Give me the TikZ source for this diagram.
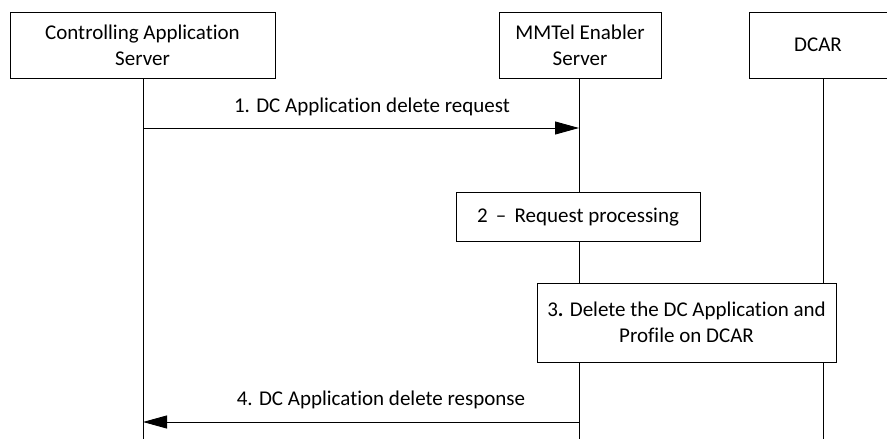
\documentclass[tikz,border=0pt]{standalone}
\usepackage{fontspec}
\setmainfont{Carlito}[Ligatures={NoCommon}]
\usetikzlibrary{arrows.meta}

\begin{document}
\begin{tikzpicture}[x=1pt, y=-1pt, line width=0.9pt,
    font=\fontsize{21}{26}\selectfont,
    actor/.style = {draw, fill=white, align=center, inner sep=0pt},
    msg/.style = {-{Triangle[length=24pt, width=13pt]}}]
    \useasboundingbox (0,0) rectangle (887,439);

    % le entita in alto
    \node[actor, minimum width=265pt, minimum height=66pt] (cas) at (142.5,45) {Controlling Application\\Server};
    \node[actor, minimum width=162pt, minimum height=66pt] (mes) at (580,45) {MMTel Enabler\\Server};
    \node[actor, minimum width=138pt, minimum height=66pt] (dcar) at (818,45) {DCAR};

    % linee di vita
    \coordinate (casend) at (143,439);
    \coordinate (mesend) at (579,439);
    \coordinate (dcarend) at (823,439);
    \draw (cas.south -| casend) -- (casend);
    \draw (mes.south -| mesend) -- (mesend);
    \draw (dcar.south -| dcarend) -- (dcarend);

    % passi
    \node[actor, minimum width=244pt, minimum height=49pt] (p2) at (578,217) {2 \,–\, Request processing};
    \node[actor, minimum width=299pt, minimum height=79pt] (p3) at (686.5,322.5) {3\textbf{.} Delete the DC Application and\\Profile on DCAR};

    % messaggi
    \coordinate (a1) at (143,128);
    \coordinate (b1) at (579,128);
    \coordinate (a4) at (143,422);
    \coordinate (b4) at (579,422);
    \draw[msg] (a1) to (b1);
    \draw[msg] (b4) to (a4);

    \node at (372,107) {1. DC Application delete request};
    \node at (381,400) {4. DC Application delete response};

\end{tikzpicture}
\end{document}
